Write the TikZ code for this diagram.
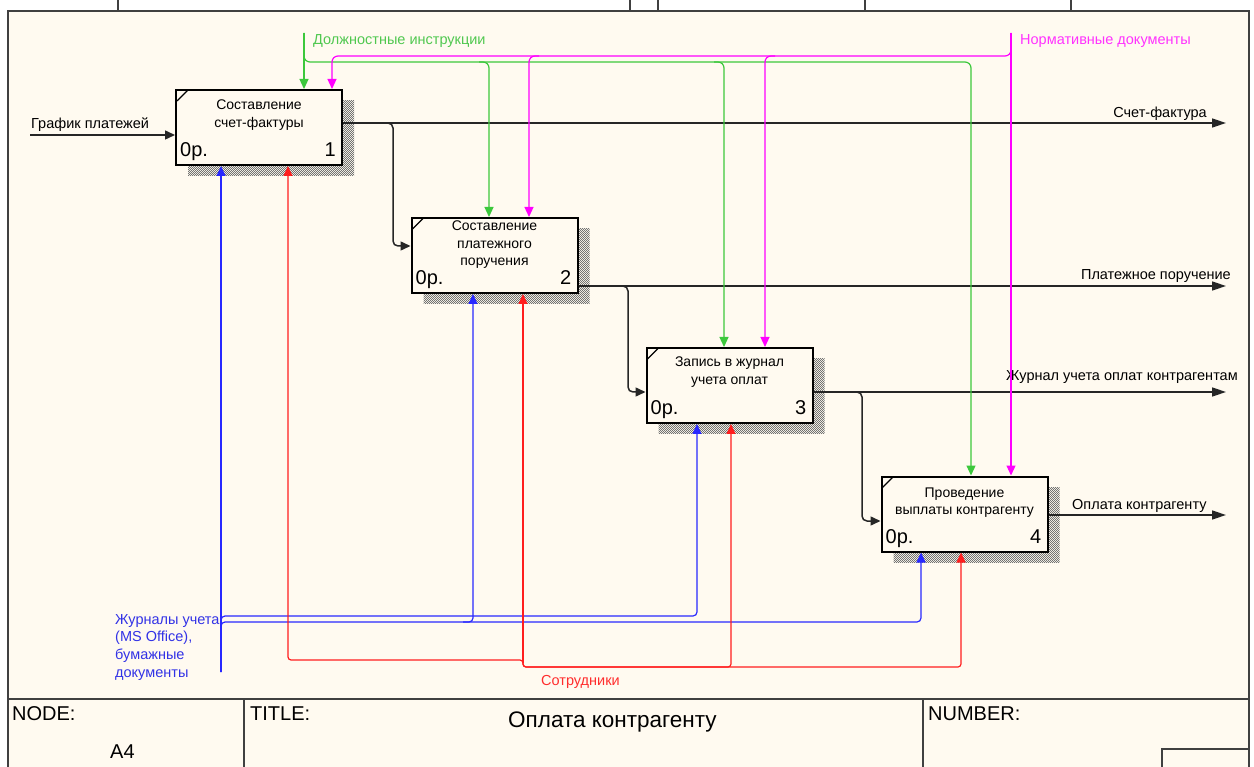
\documentclass[tikz,border=0pt]{standalone}
\usepackage{fontspec}
\setmainfont{Liberation Sans}
\usetikzlibrary{arrows.meta,patterns,shadows}

\definecolor{paper}{RGB}{255,250,240}
\definecolor{frameline}{RGB}{64,64,64}
\definecolor{ctlgreen}{RGB}{60,200,60}
\definecolor{ctlgreentext}{RGB}{80,200,80}
\definecolor{ctlmagenta}{RGB}{255,0,255}
\definecolor{ctlmagentatext}{RGB}{255,50,255}
\definecolor{mechblue}{RGB}{40,40,255}
\definecolor{mechbluetext}{RGB}{50,50,230}
\definecolor{mechred}{RGB}{255,30,30}
\definecolor{mechredtext}{RGB}{255,45,45}

% checker used for the box shadows
\pgfdeclarepatternformonly{idefhatch}{\pgfqpoint{0pt}{0pt}}{\pgfqpoint{2.4pt}{2.4pt}}{\pgfqpoint{2.4pt}{2.4pt}}{%
	\pgfpathrectangle{\pgfqpoint{0pt}{0pt}}{\pgfqpoint{1.2pt}{1.2pt}}%
	\pgfpathrectangle{\pgfqpoint{1.2pt}{1.2pt}}{\pgfqpoint{1.2pt}{1.2pt}}%
	\pgfusepath{fill}}

\begin{document}
\begin{tikzpicture}[
		x=1pt, y=-1pt,
		> = {Triangle[length=10pt,width=9pt]},
		fnbox/.style={draw, line width=2pt, fill=paper, minimum width=166pt, minimum height=75pt, inner sep=0pt,
			general shadow={shadow xshift=12pt, shadow yshift=-11pt, pattern=idefhatch, pattern color=black!55},
			path picture={\draw[line width=1.3pt] ([xshift=1pt,yshift=-11pt]path picture bounding box.north west) -- ([xshift=12pt]path picture bounding box.north west);}},
		fntext/.style={font=\fontsize{14}{17.5}\selectfont, align=center, inner sep=0pt},
		fncost/.style={font=\fontsize{20}{20}\selectfont, inner sep=0pt},
		lbl/.style={font=\fontsize{14.5}{17.7}\selectfont, inner sep=0pt},
		tb/.style={font=\fontsize{20}{20}\selectfont, inner sep=0pt, anchor=base west},
		flow/.style={->, draw=black!85, line width=1.5pt, rounded corners=5pt},
		outflow/.style={flow, -{Triangle[length=14pt,width=9pt]}},
		ctlg/.style={->, draw=ctlgreen, line width=1.2pt, rounded corners=6pt},
		ctlm/.style={->, draw=ctlmagenta, line width=1.2pt, rounded corners=6pt},
		mechb/.style={->, draw=mechblue, line width=1.2pt, rounded corners=4pt},
		mechr/.style={->, draw=mechred, line width=1.2pt, rounded corners=3pt}
		]
		\useasboundingbox (0,0) rectangle (1254,767);
		
		% sheet and title block
		\fill[white] (0,0) rectangle (1254,767);
		\fill[paper] (8,11) rectangle (1249,767);
		\draw[frameline, line width=1.5pt] (8,767) -- (8,11) -- (1249,11) -- (1249,767);
		\draw[frameline, line width=1.2pt] (118,0) -- (118,11) (630,0) -- (630,11) (658,0) -- (658,11) (865,0) -- (865,11) (1071,0) -- (1071,11);
		\draw[frameline, line width=1.5pt] (8,699) -- (1249,699) (244,699) -- (244,767) (923,699) -- (923,767) (1162,767) |- (1249,749);
		\node[tb] (nodelbl) at (12,720) {NODE:};
		\node[tb] (nodeval) at (110,758) {A4};
		\node[tb] (titlelbl) at (250,720) {TITLE:};
		\node[tb, font=\fontsize{22.5}{22.5}\selectfont] (titleval) at (508,727) {Оплата контрагенту};
		\node[tb] (numberlbl) at (928,720) {NUMBER:};
		
		% activity boxes
		\node[fnbox] (b1) at (259,127.5) {};
		\node[fntext] (b1t) at ([yshift=-26pt]b1.north) {Составление\\счет-фактуры};
		\node[fncost, anchor=base west] (b1c) at ([xshift=5pt,yshift=9pt]b1.south west) {0р.};
		\node[fncost, anchor=base east] (b1n) at ([xshift=-7pt,yshift=9pt]b1.south east) {1};
		
		\node[fnbox] (b2) at (494.5,255.5) {};
		\node[fntext] (b2t) at ([yshift=-28pt]b2.north) {Составление\\платежного\\поручения};
		\node[fncost, anchor=base west] (b2c) at ([xshift=5pt,yshift=9pt]b2.south west) {0р.};
		\node[fncost, anchor=base east] (b2n) at ([xshift=-7pt,yshift=9pt]b2.south east) {2};
		
		\node[fnbox] (b3) at (729.5,385.5) {};
		\node[fntext] (b3t) at ([yshift=-25pt]b3.north) {Запись в журнал\\учета оплат};
		\node[fncost, anchor=base west] (b3c) at ([xshift=5pt,yshift=9pt]b3.south west) {0р.};
		\node[fncost, anchor=base east] (b3n) at ([xshift=-7pt,yshift=9pt]b3.south east) {3};
		
		\node[fnbox] (b4) at (964.5,514) {};
		\node[fntext] (b4t) at ([yshift=-27pt]b4.north) {Проведение\\выплаты контрагенту};
		\node[fncost, anchor=base west] (b4c) at ([xshift=5pt,yshift=9pt]b4.south west) {0р.};
		\node[fncost, anchor=base east] (b4n) at ([xshift=-7pt,yshift=9pt]b4.south east) {4};
		
		% inputs and outputs
		\coordinate (in1) at (30,135);
		\coordinate (o1) at (1226,123);
		\coordinate (o2) at (1226,286);
		\coordinate (o3) at (1226,392);
		\coordinate (o4) at (1226,515);
		\coordinate (k1) at (393,246);
		\coordinate (k2) at (628,392);
		\coordinate (k3) at (862,521);
		\draw[flow] (in1) -- (in1 -| b1.west);
		\draw[outflow] (b1.east |- o1) -- (o1);
		\draw[flow] (b1.east |- o1) -| (k1) -- (k1 -| b2.west);
		\draw[outflow] (b2.east |- o2) -- (o2);
		\draw[flow] (b2.east |- o2) -| (k2) -- (k2 -| b3.west);
		\draw[outflow] (b3.east |- o3) -- (o3);
		\draw[flow] (b3.east |- o3) -| (k3) -- (k3 -| b4.west);
		\draw[outflow] (b4.east |- o4) -- (o4);
		\node[lbl, anchor=base west] (lin1) at (31,129) {График платежей};
		\node[lbl, anchor=base east] (lo1) at (1207,118) {Счет-фактура};
		\node[lbl, anchor=base east] (lo2) at (1231,280) {Платежное поручение};
		\node[lbl, anchor=base west] (lo3) at (1006,381) {Журнал учета оплат контрагентам};
		\node[lbl, anchor=base west] (lo4) at (1072,509) {Оплата контрагенту};
		
		% controls
		\coordinate (gs) at (304,33);
		\coordinate (g2) at (489,62);
		\coordinate (g3) at (724,62);
		\coordinate (g4) at (971,62);
		\draw[ctlg] (gs) -- (gs |- b1.north);
		\draw[ctlg] (gs) |- (g4) -- (g4 |- b4.north);
		\draw[ctlg] ([xshift=-10pt]g2) -| (g2 |- b2.north);
		\draw[ctlg] ([xshift=-10pt]g3) -| (g3 |- b3.north);
		\node[lbl, text=ctlgreentext, anchor=base west] (lctlg) at (313,45) {Должностные инструкции};
		
		\coordinate (ms) at (1011,33);
		\coordinate (m1) at (332,56);
		\coordinate (m2) at (529,56);
		\coordinate (m3) at (765,56);
		\draw[ctlm] (ms) -- (ms |- b4.north);
		\draw[ctlm] (ms) |- (m1) -- (m1 |- b1.north);
		\draw[ctlm] ([xshift=10pt]m2) -| (m2 |- b2.north);
		\draw[ctlm] ([xshift=10pt]m3) -| (m3 |- b3.north);
		\node[lbl, text=ctlmagentatext, anchor=base west] (lctlm) at (1020,45) {Нормативные документы};
		
		% mechanisms
		\coordinate (bs) at (221,672);
		\coordinate (bm2) at (473,622);
		\coordinate (bm3) at (697,616);
		\coordinate (bm4) at (921,622);
		\draw[mechb] (bs) -- (bs |- b1.south);
		\draw[mechb] (bs) |- (bm3) -- (bm3 |- b3.south);
		\draw[mechb] (bs) |- (bm4) -- (bm4 |- b4.south);
		\draw[mechb] ([xshift=-10pt]bm2) -| (bm2 |- b2.south);
		\node[lbl, text=mechbluetext, align=left, anchor=north west] (lmechb) at (115,614) {Журналы учета\\(MS Office),\\бумажные\\документы};
		
		\coordinate (rs) at (523,663);
		\coordinate (r1) at (288,660);
		\coordinate (r3) at (731,667);
		\coordinate (r4) at (961,667);
		\draw[mechr] (rs) -- (rs |- b2.south);
		\draw[mechr] (rs) |- (r1) -- (r1 |- b1.south);
		\draw[mechr] (rs) |- (r3) -- (r3 |- b3.south);
		\draw[mechr] (rs) |- (r4) -- (r4 |- b4.south);
		\node[lbl, text=mechredtext, anchor=base west] (lmechr) at (541,685) {Сотрудники};
	\end{tikzpicture}
\end{document}
